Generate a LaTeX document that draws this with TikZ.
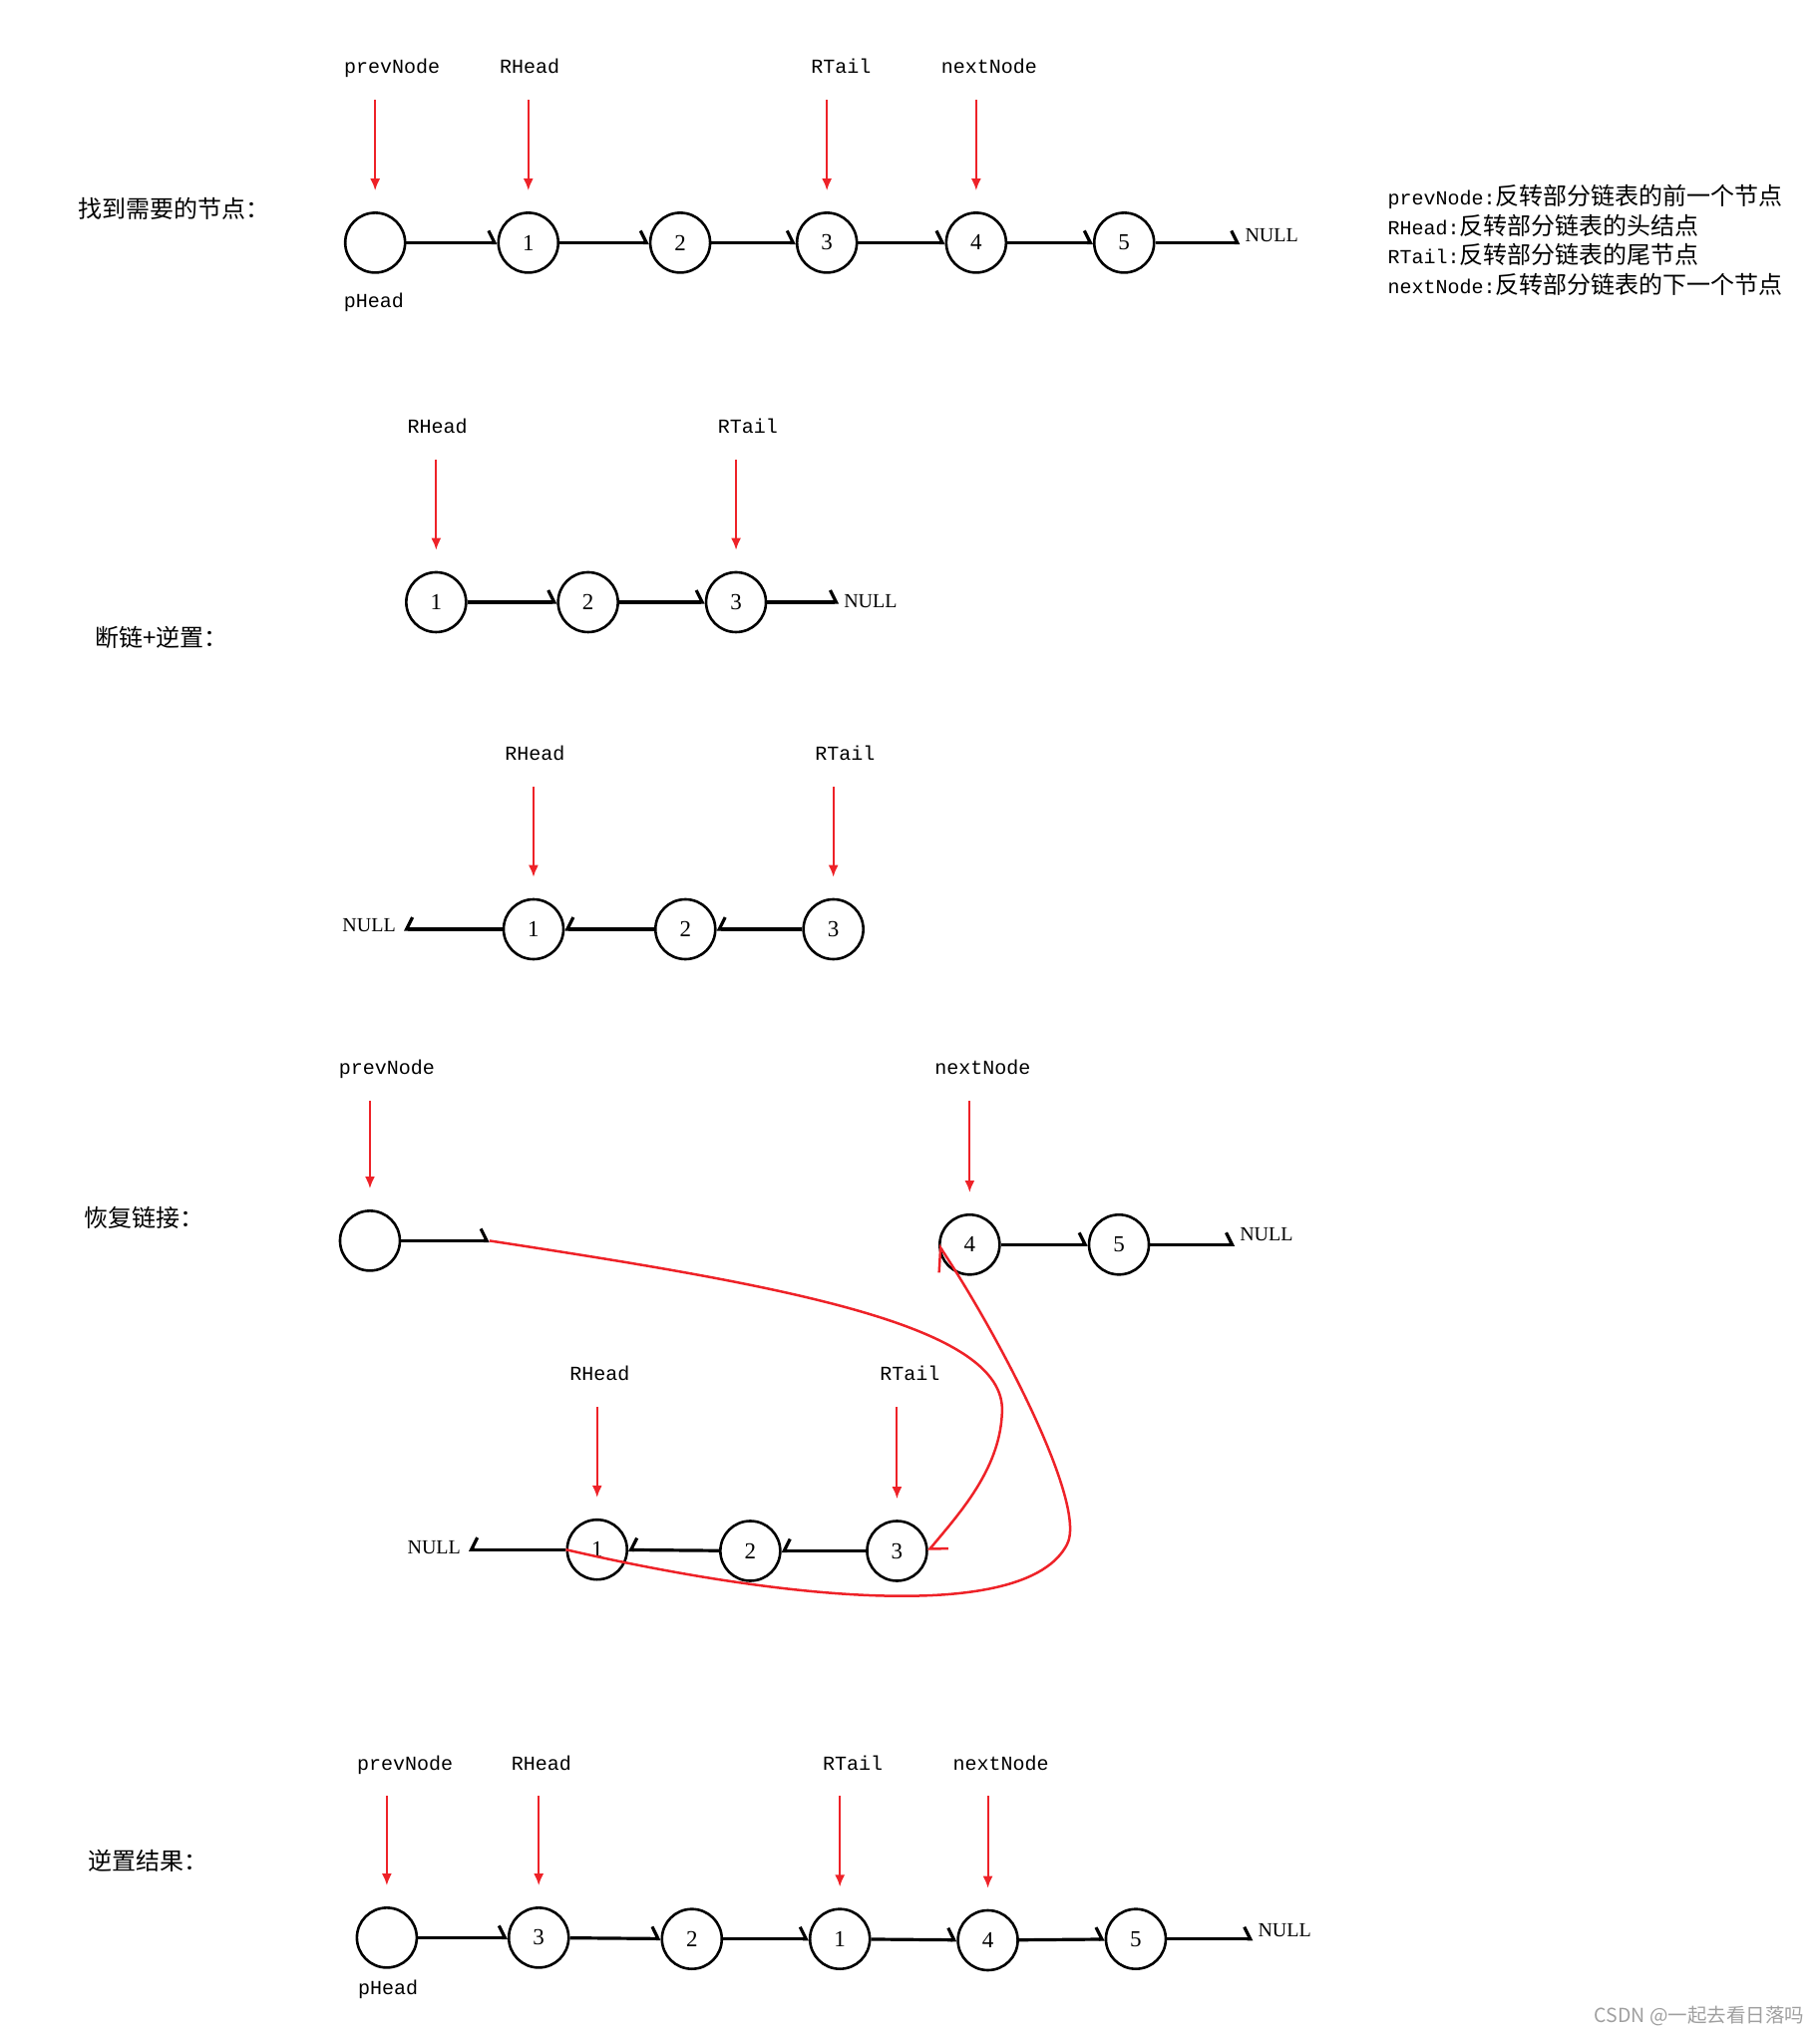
\documentclass[tikz,border=0pt]{standalone}
\usepackage{fontspec}
\setmainfont{Liberation Serif}
\newfontfamily\cjk{Noto Sans CJK SC}
\newfontfamily\mono{Liberation Mono}
\usepackage{tikz}
\usetikzlibrary{arrows.meta,automata,positioning}
\definecolor{ptrred}{RGB}{238,34,40}

\begin{document}
\begin{tikzpicture}[x=1.3017pt,y=-1.3017pt,
  every state/.style={draw,line width=2.6pt,minimum size=60pt,inner sep=0pt,font=\fontsize{23}{23}\selectfont},
  nxt/.style={line width=3.2pt,-{Straight Barb[left,length=6pt,width=24pt]}},
  prv/.style={line width=3.2pt,-{Straight Barb[right,length=6pt,width=24pt]}},
  ptr/.style={ptrred,line width=2pt,-{Latex[length=12pt,width=10pt]},shorten <=22pt,shorten >=21pt},
  link/.style={ptrred,line width=2.5pt},
  lbl/.style={inner sep=0pt,text height=14pt,text depth=4pt,font=\mono\fontsize{20}{20}\selectfont},
  null/.style={inner sep=0pt,anchor=west,font=\fontsize{20}{20}\selectfont},
  rowname/.style={inner sep=0pt,anchor=west,font=\cjk\fontsize{24}{24}\selectfont},
  keyline/.style={inner sep=0pt,anchor=west,font=\cjk\fontsize{24}{24}\selectfont}]
  \useasboundingbox (0,0) rectangle (1402,1568);

  % row 1: the nodes we look for
  \node[rowname] (t1) at (60,161) {找到需要的节点：};
  \node[lbl] (p1) at (302,53) {prevNode};
  \node[lbl] (h1) at (408,53) {RHead};
  \node[lbl] (r1) at (648,53) {RTail};
  \node[lbl] (x1) at (762,53) {nextNode};
  \node[state] (a0) at (289,187) {};
  \node[state] (a1) at (407,187) {1};
  \node[state] (a2) at (524,187) {2};
  \node[state] (a3) at (637,187) {3};
  \node[state] (a4) at (752,187) {4};
  \node[state] (a5) at (866,187) {5};
  \node[null] (n1) at (959,181) {NULL};
  \node[lbl] (ph1) at (288,233) {pHead};
  \path[nxt] (a0) edge (a1) (a1) edge (a2) (a2) edge (a3) (a3) edge (a4) (a4) edge (a5);
  \draw[nxt,shorten >=5pt] (a5) -- (a5 -| n1.west);
  \draw[ptr] (a0.north |- p1.south) -- (a0.north);
  \draw[ptr] (a1.north |- h1.south) -- (a1.north);
  \draw[ptr] (a3.north |- r1.south) -- (a3.north);
  \draw[ptr] (a4.north |- x1.south) -- (a4.north);

  % legend
  \node[keyline] (k1) at (1069,152) {{\mono\fontsize{20}{20}\selectfont prevNode:}反转部分链表的前一个节点};
  \node[keyline] (k2) at (1069,174) {{\mono\fontsize{20}{20}\selectfont RHead:}反转部分链表的头结点};
  \node[keyline] (k3) at (1069,196) {{\mono\fontsize{20}{20}\selectfont RTail:}反转部分链表的尾节点};
  \node[keyline] (k4) at (1069,219) {{\mono\fontsize{20}{20}\selectfont nextNode:}反转部分链表的下一个节点};

  % row 2: cut off
  \node[rowname] (t2) at (73,491) {断链+逆置：};
  \node[lbl] (h2) at (337,330) {RHead};
  \node[lbl] (r2) at (576,330) {RTail};
  \node[state] (b1) at (336,464) {1};
  \node[state] (b2) at (453,464) {2};
  \node[state] (b3) at (567,464) {3};
  \node[null] (n2) at (650,463) {NULL};
  \path[nxt] (b1) edge (b2) (b2) edge (b3);
  \draw[nxt,shorten >=5pt] (b3) -- (b3 -| n2.west);
  \draw[ptr] (b1.north |- h2.south) -- (b1.north);
  \draw[ptr] (b3.north |- r2.south) -- (b3.north);

  % row 3: reversed
  \node[lbl] (h3) at (412,582) {RHead};
  \node[lbl] (r3) at (651,582) {RTail};
  \node[state] (c1) at (411,716) {1};
  \node[state] (c2) at (528,716) {2};
  \node[state] (c3) at (642,716) {3};
  \node[null,anchor=east] (n3) at (305,713) {NULL};
  \path[prv] (c3) edge (c2) (c2) edge (c1);
  \draw[prv,shorten >=8pt] (c1) -- (c1 -| n3.east);
  \draw[ptr] (c1.north |- h3.south) -- (c1.north);
  \draw[ptr] (c3.north |- r3.south) -- (c3.north);

  % row 4: link back
  \node[rowname] (t4) at (65,938) {恢复链接：};
  \node[lbl] (p4) at (298,824) {prevNode};
  \node[lbl] (x4) at (757,824) {nextNode};
  \node[state] (d0) at (285,956) {};
  \coordinate (d0end) at (377,956);
  \node[state] (d4) at (747,959) {4};
  \node[state] (d5) at (862,959) {5};
  \node[null] (n4) at (955,951) {NULL};
  \draw[nxt] (d0) -- (d0end);
  \path[nxt] (d4) edge (d5);
  \draw[nxt,shorten >=5pt] (d5) -- (d5 -| n4.west);
  \draw[ptr] (d0.north |- p4.south) -- (d0.north);
  \draw[ptr] (d4.north |- x4.south) -- (d4.north);

  \node[lbl] (h5) at (462,1060) {RHead};
  \node[lbl] (r5) at (701,1060) {RTail};
  \node[state] (e1) at (460,1194) {1};
  \node[state] (e2) at (578,1195) {2};
  \node[state] (e3) at (691,1195) {3};
  \node[null,anchor=east] (n5) at (355,1192) {NULL};
  \path[prv] (e3) edge (e2) (e2) edge (e1);
  \draw[prv,shorten >=8pt] (e1) -- (e1 -| n5.east);
  \draw[ptr] (e1.north |- h5.south) -- (e1.north);
  \draw[ptr] (e3.north |- r5.south) -- (e3.north);

  \draw[link,-{Straight Barb[left,length=12pt,width=28pt]}] (d0end)
    .. controls (600,990) and (770,1020) .. (772,1085)
    .. controls (772,1130) and (740,1165) .. (e3.east);
  \draw[link,-{Straight Barb[left,length=20pt,width=30pt]}] (e1.west)
    .. controls (600,1232) and (790,1252) .. (822,1190)
    .. controls (838,1160) and (770,1030) .. (d4.west);

  % row 5: result
  \node[rowname] (t6) at (68,1434) {逆置结果：};
  \node[lbl] (p6) at (312,1360) {prevNode};
  \node[lbl] (h6) at (417,1360) {RHead};
  \node[lbl] (r6) at (657,1360) {RTail};
  \node[lbl] (x6) at (771,1360) {nextNode};
  \node[state] (f0) at (298,1493) {};
  \node[state] (f3) at (415,1493) {3};
  \node[state] (f2) at (533,1494) {2};
  \node[state] (f1) at (647,1494) {1};
  \node[state] (f4) at (761,1495) {4};
  \node[state] (f5) at (875,1494) {5};
  \node[null] (n6) at (969,1487) {NULL};
  \node[lbl] (ph6) at (299,1533) {pHead};
  \path[nxt] (f0) edge (f3) (f3) edge (f2) (f2) edge (f1) (f1) edge (f4) (f4) edge (f5);
  \draw[nxt,shorten >=5pt] (f5) -- (f5 -| n6.west);
  \draw[ptr] (f0.north |- p6.south) -- (f0.north);
  \draw[ptr] (f3.north |- h6.south) -- (f3.north);
  \draw[ptr] (f1.north |- r6.south) -- (f1.north);
  \draw[ptr] (f4.north |- x6.south) -- (f4.north);

  \node[anchor=east,inner sep=0pt,text=gray!75,font=\cjk\fontsize{19.5}{19.5}\selectfont] (mark) at (1390,1553) {CSDN @一起去看日落吗};
\end{tikzpicture}
\end{document}
